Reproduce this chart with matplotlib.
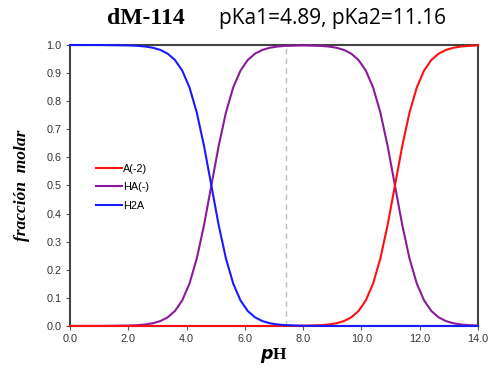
import matplotlib
matplotlib.use("Agg")
import matplotlib.pyplot as plt
from matplotlib.ticker import FormatStrFormatter

pH = [0.0, 1.0, 2.0, 2.35, 2.6, 2.85, 3.1, 3.35, 3.6, 3.85, 4.1, 4.35, 4.6, 4.85,
      5.1, 5.35, 5.6, 5.85, 6.1, 6.35, 6.6, 6.85, 7.1, 7.35, 8.0,
      8.65, 8.9, 9.15, 9.4, 9.65, 9.9, 10.15, 10.4, 10.65, 10.9, 11.15,
      11.4, 11.65, 11.9, 12.15, 12.4, 12.65, 12.9, 13.15, 13.4, 13.65, 14.0]

H2A = [1.0, 0.9999, 0.9986, 0.99685, 0.99441, 0.9901, 0.98253, 0.96935, 0.94676, 0.90909,
       0.84902, 0.75975, 0.64006, 0.5, 0.35994, 0.24025, 0.15098, 0.09091, 0.05324,
       0.03065, 0.01747, 0.0099, 0.00559, 0.00315, 0.0007,
       0.00016, 0.0001, 0.0, 0.0, 0.0, 0.0, 0.0, 0.0, 0.0, 0.0, 0.0,
       0.0, 0.0, 0.0, 0.0, 0.0, 0.0, 0.0, 0.0, 0.0, 0.0, 0.0]

HA = [0.0, 0.0001, 0.0014, 0.00315, 0.00559, 0.0099, 0.01747, 0.03065, 0.05324, 0.09091,
      0.15098, 0.24025, 0.35994, 0.5, 0.64006, 0.75975, 0.84902, 0.90909, 0.94676,
      0.96935, 0.98253, 0.9901, 0.99441, 0.9967, 0.9986,
      0.9967, 0.99431, 0.9901, 0.98253, 0.96935, 0.94676, 0.90909, 0.84902, 0.75975,
      0.64006, 0.5, 0.35994, 0.24025, 0.15098, 0.09091, 0.05324, 0.03065, 0.01747,
      0.0099, 0.00559, 0.00315, 0.0014]

A2 = [0.0, 0.0, 0.0, 0.0, 0.0, 0.0, 0.0, 0.0, 0.0, 0.0,
      0.0, 0.0, 0.0, 0.0, 0.0, 0.0, 0.0, 0.0, 0.0,
      0.0, 0.0, 0.0, 0.0, 0.00016, 0.0007,
      0.00315, 0.00559, 0.0099, 0.01747, 0.03065, 0.05324, 0.09091, 0.15098, 0.24025,
      0.35994, 0.5, 0.64006, 0.75975, 0.84902, 0.90909, 0.94676, 0.96935, 0.98253,
      0.9901, 0.99441, 0.99685, 0.9986]

series_labels = ["A(-2)", "HA(-)", "H2A"]
ref_pH = 7.4

fig = plt.figure(figsize=(4.91, 3.72), dpi=100)
ax = fig.add_axes([0.1426, 0.1237, 0.8309, 0.7553])

l_purple, = ax.plot(pH, HA, color="#8B1A9B", lw=1.5, label=series_labels[1], zorder=3, clip_on=False)
l_red, = ax.plot(pH, A2, color="#FF1010", lw=1.5, label=series_labels[0], zorder=4, clip_on=False)
l_blue, = ax.plot(pH, H2A, color="#1A1AFF", lw=1.5, label=series_labels[2], zorder=5, clip_on=False)
ax.axvline(ref_pH, color="#BDBDBD", lw=1.0, ls=(0, (4, 3)), zorder=1)

ax.set_xlim(0, 14)
ax.set_ylim(0, 1)
ax.set_xticks([0, 2, 4, 6, 8, 10, 12, 14])
ax.set_yticks([i / 10 for i in range(11)])
ax.xaxis.set_major_formatter(FormatStrFormatter("%.1f"))
ax.yaxis.set_major_formatter(FormatStrFormatter("%.1f"))
for lab in ax.get_xticklabels() + ax.get_yticklabels():
    lab.set_family("Liberation Sans")
    lab.set_fontsize(7.8)
    lab.set_color("#333333")
ax.tick_params(axis="both", direction="out", length=3, width=0.8, color="#555555", pad=3)

for s in ax.spines.values():
    s.set_color("#444444")
    s.set_linewidth(1.5)

ax.legend(handles=[l_red, l_purple, l_blue], loc="upper left", bbox_to_anchor=(0.04, 0.612),
          frameon=False, prop={"family": "Liberation Sans", "size": 7.8},
          handlelength=2.4, handletextpad=0.1, labelspacing=0.78)

ax.set_ylabel("fracción  molar", family="Liberation Serif", style="italic", weight="bold",
              fontsize=12.5, labelpad=12)
ax.set_xlabel(r"$\boldsymbol{p}$H", family="Liberation Serif", weight="bold", fontsize=12.5,
              labelpad=1)

fig.text(0.297, 0.950, "dM-114", family="Liberation Serif", weight="bold", fontsize=17,
         ha="center", va="center")
fig.text(0.677, 0.950, "pKa1=4.89, pKa2=11.16", family="Open Sans", fontsize=15,
         ha="center", va="center")

fig.savefig("out.png", dpi=100)
